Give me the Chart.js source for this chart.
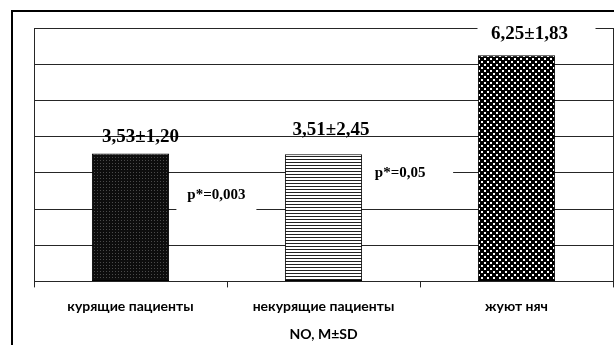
<!DOCTYPE html>
<html>
<head>
<meta charset="utf-8">
<script src="https://cdn.jsdelivr.net/npm/chart.js@4/dist/chart.umd.min.js"></script>
<style>
  html, body { margin: 0; padding: 0; background: #fff; }
  #wrap { width: 614px; height: 345px; }
</style>
</head>
<body>
<div id="wrap"><canvas id="c" width="614" height="345"></canvas></div>
<script>
// Groups and NO level (M ± SD)
const categories = ['курящие пациенты', 'некурящие пациенты', 'жуют няч'];
const means = [3.53, 3.51, 6.25];
const sds = [1.20, 2.45, 1.83];
const pTexts = ['p*=0,003', 'p*=0,05'];
const axisTitle = 'NO, M±SD';
const yMin = 0, yMax = 7, yStep = 1;

// Where the annotations sit (data units for p-values, pixel nudges for value labels)
const pPlacement = [
  { x: 0.445, y: 2.39, boxL: 40, boxR: 40, boxUp: 14, boxDown: 16 },
  { x: 1.397, y: 2.98, boxL: 52, boxR: 53, boxUp: 15, boxDown: 15 }
];
const valuePlacement = [
  { dx: 10, dy: -17 },
  { dx: 7.5, dy: -24 },
  { dx: 13, dy: -21, box: { l: 52, r: 66, up: 16, down: 14 } }
];

const fmt = v => v.toFixed(2).replace('.', ',');
const valueLabels = means.map((m, i) => fmt(m) + '±' + fmt(sds[i]));

function makePattern(w, h, draw) {
  const c = document.createElement('canvas');
  c.width = w; c.height = h;
  const g = c.getContext('2d');
  draw(g);
  return g.createPattern(c, 'repeat');
}
const fillDots = makePattern(3, 3, g => {
  g.fillStyle = '#0d0d0d'; g.fillRect(0, 0, 3, 3);
  g.fillStyle = '#4a4a4a'; g.fillRect(1, 1, 1, 1);
});
const fillStripes = makePattern(3, 3, g => {
  g.fillStyle = '#fff'; g.fillRect(0, 0, 3, 3);
  g.fillStyle = '#222'; g.fillRect(0, 0, 3, 1);
});
const fillChecks = makePattern(6, 6, g => {
  g.fillStyle = '#000'; g.fillRect(0, 0, 6, 6);
  g.fillStyle = '#fff'; g.fillRect(1, 1, 2, 2); g.fillRect(4, 4, 2, 2);
});

const gridColor = '#262626';
const sansBold = { family: 'Lato', weight: 'bold', size: 14 };

const annotate = {
  id: 'annotate',
  beforeDraw(chart) {
    const ctx = chart.ctx;
    ctx.save();
    ctx.strokeStyle = '#000';
    ctx.lineWidth = 2;
    ctx.strokeRect(12, 11, 700, 500);
    ctx.restore();
  },
  beforeDatasetsDraw(chart) {
    const ctx = chart.ctx;
    const xs = chart.scales.x, ys = chart.scales.y;
    const meta = chart.getDatasetMeta(0);
    ctx.save();
    ctx.fillStyle = '#fff';
    pPlacement.forEach(p => {
      const cx = xs.getPixelForValue(p.x), cy = ys.getPixelForValue(p.y);
      ctx.fillRect(cx - p.boxL, cy - p.boxUp, p.boxL + p.boxR, p.boxUp + p.boxDown);
    });
    valuePlacement.forEach((p, i) => {
      if (!p.box) return;
      const bar = meta.data[i];
      const cx = bar.x + p.dx, cy = bar.y + p.dy;
      ctx.fillRect(cx - p.box.l, cy - p.box.up, p.box.l + p.box.r, p.box.up + p.box.down);
    });
    ctx.restore();
  },
  afterDatasetsDraw(chart) {
    const ctx = chart.ctx;
    const xs = chart.scales.x, ys = chart.scales.y;
    const meta = chart.getDatasetMeta(0);
    ctx.save();
    ctx.fillStyle = '#000';
    ctx.textAlign = 'center';
    ctx.textBaseline = 'middle';
    ctx.font = 'bold 19px "Liberation Serif"';
    valueLabels.forEach((t, i) => {
      const bar = meta.data[i];
      ctx.fillText(t, bar.x + valuePlacement[i].dx, bar.y + valuePlacement[i].dy);
    });
    ctx.font = 'bold 15px "Liberation Serif"';
    pTexts.forEach((t, i) => {
      const p = pPlacement[i];
      ctx.fillText(t, xs.getPixelForValue(p.x), ys.getPixelForValue(p.y));
    });
    ctx.restore();
  }
};

new Chart(document.getElementById('c'), {
  type: 'bar',
  data: {
    labels: categories,
    datasets: [{
      data: means,
      backgroundColor: [fillDots, fillStripes, fillChecks],
      borderColor: '#000',
      borderWidth: 1,
      borderSkipped: false,
      barPercentage: 0.8,
      categoryPercentage: 0.5
    }]
  },
  options: {
    responsive: false,
    devicePixelRatio: 1,
    animation: false,
    layout: { padding: { left: 34, top: 28, right: 1, bottom: 0 } },
    plugins: { legend: { display: false }, tooltip: { enabled: false } },
    scales: {
      x: {
        offset: true,
        grid: { display: true, drawOnChartArea: false, drawTicks: true, tickLength: 6, color: gridColor, offset: true },
        border: { display: true, color: gridColor },
        ticks: { color: '#000', font: sansBold, padding: 11, maxRotation: 0, autoSkip: false },
        title: { display: true, text: axisTitle, color: '#000', font: sansBold, padding: { top: 0, bottom: 2 } }
      },
      y: {
        min: yMin, max: yMax,
        ticks: { display: false, stepSize: yStep },
        grid: { color: gridColor, drawTicks: false },
        border: { display: true, color: gridColor }
      },
      yR: {
        position: 'right',
        min: yMin, max: yMax,
        ticks: { display: false },
        grid: { display: false, drawTicks: false },
        border: { display: true, color: gridColor }
      }
    }
  },
  plugins: [annotate]
});
</script>
</body>
</html>
